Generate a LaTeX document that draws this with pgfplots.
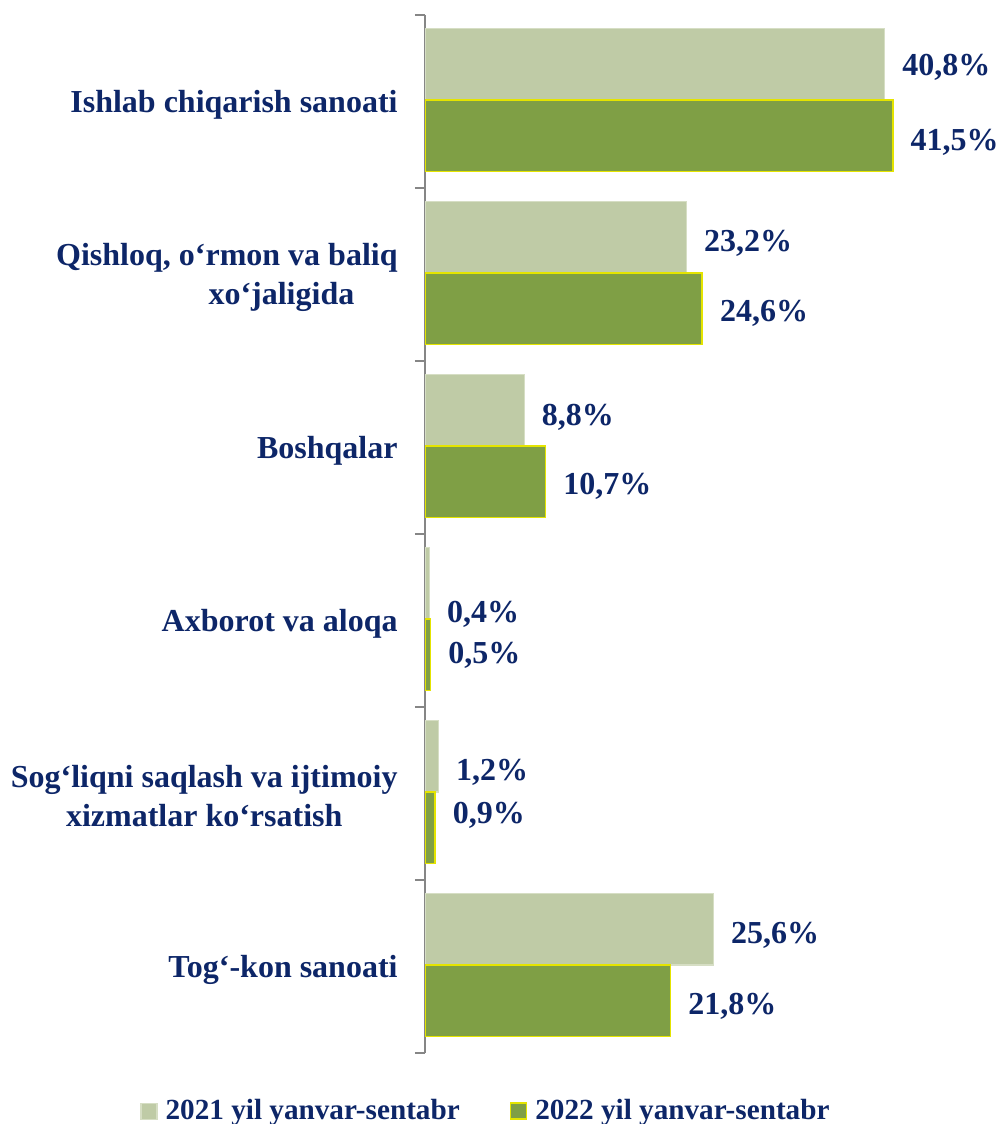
\documentclass[border=0pt]{standalone}
\usepackage{fontspec}
\setmainfont{Liberation Serif}
\usepackage{pgfplots}
\pgfplotsset{compat=1.18}
\usepackage{pgfplotstable}
\definecolor{navy}{RGB}{13,38,104}
\definecolor{lightbar}{RGB}{191,203,166}
\definecolor{lightedge}{RGB}{214,222,196}
\definecolor{darkbar}{RGB}{127,159,69}
\definecolor{yel}{RGB}{228,228,0}
\definecolor{axgray}{RGB}{134,134,134}

% y: 0 = bottom category ... 5 = top category; dy = vertical label offset (pt)
\pgfplotstableread{
y v dy
0 25.6 -3
1 1.2 -8
2 0.4 -15.5
3 8.8 -3.5
4 23.2 -3
5 40.8 -1.5
}\tA
\pgfplotstableread{
y v dy
0 21.8 -3
1 0.9 6
2 0.5 -0.25
3 10.7 -2.5
4 24.6 -2.5
5 41.5 -3.25
}\tB

\begin{document}
\begin{tikzpicture}
\path[use as bounding box] (0,0) rectangle (499.5pt,562pt);
\begin{axis}[
  at={(212.5pt,35.5pt)}, anchor=south west,
  scale only axis, width=281.75pt, height=519pt,
  xmin=0, xmax=50, ymin=-0.5, ymax=5.5,
  xbar, bar width=0.414,
  axis x line=none,
  axis y line*=left,
  y axis line style={draw=axgray, line width=0.75pt},
  ytick={0,...,5},
  yticklabels={Tog‘-kon sanoati, {Sog‘liqni saqlash va ijtimoiy\\xizmatlar ko‘rsatish}, Axborot va aloqa, Boshqalar, {Qishloq, o‘rmon va baliq\\\hspace*{54.5pt}xo‘jaligida}, Ishlab chiqarish sanoati},
  major tick length=0pt,
  minor ytick={-0.5,0.5,...,5.5},
  minor tick length=5pt,
  tick align=outside,
  ytick pos=left,
  every minor tick/.style={draw=axgray, line width=0.75pt},
  yticklabel style={font=\bfseries\fontsize{16}{19.5}\selectfont, text=navy, align=center, inner sep=0pt, xshift=-13.5pt, yshift=-1.5pt},
  /pgf/number format/assume math mode=true,
  point meta=x,
  nodes near coords={\pgfmathprintnumber[fixed,fixed zerofill,precision=1,use comma]{\pgfplotspointmeta}\%},
  visualization depends on={\thisrow{dy} \as \dy},
  every node near coord/.append style={font=\bfseries\fontsize{16}{19}\selectfont, text=navy, anchor=west, inner sep=0pt, xshift=8.5pt, yshift=\dy pt},
  legend columns=2,
  legend style={at={(0.11,-0.056)}, anchor=center, draw=none, fill=none,
    font=\bfseries\fontsize{14.6}{16}\selectfont, text=navy,
    /tikz/every odd column/.append style={column sep=2pt},
    /tikz/every even column/.append style={column sep=23pt},
    inner sep=0pt},
  legend image code/.code={\draw[#1] (0pt,-4pt) rectangle (8pt,4pt);},
]
\addplot[fill=lightbar, draw=lightedge, line width=0.6pt, bar shift=0.216] table[x=v,y=y]{\tA};
\addlegendentry{2021 yil yanvar-sentabr}
\addplot[fill=darkbar, draw=yel, line width=0.8pt, bar shift=-0.198] table[x=v,y=y]{\tB};
\addlegendentry{2022 yil yanvar-sentabr}
\end{axis}
\end{tikzpicture}
\end{document}
